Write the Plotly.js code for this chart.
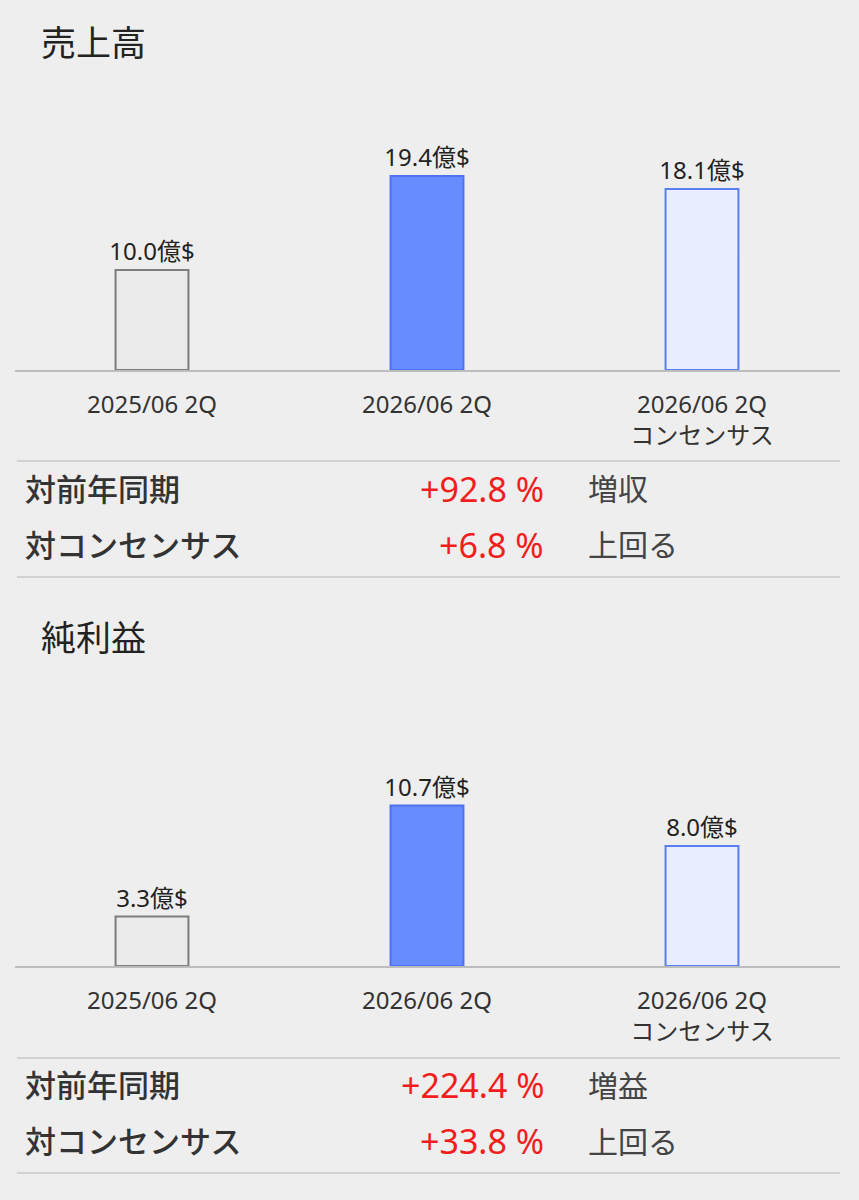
<!DOCTYPE html>
<html>
<head>
<meta charset="utf-8">
<script src="https://cdn.plot.ly/plotly-3.0.1.min.js"></script>
<style>
  html, body { margin: 0; padding: 0; background: #eeeeee; }
  #chart { width: 859px; height: 1200px; }
</style>
</head>
<body>
<div id="chart"></div>
<script>
// ---- data ----
const categories = ['2025/06 2Q', '2026/06 2Q', '2026/06 2Q<br>コンセンサス'];
const salesValues = [10.0, 19.4, 18.1];
const profitValues = [3.3, 10.7, 8.0];
const unitLabel = '億$';
const sectionTitles = ['売上高', '純利益'];
const rowLabels = ['対前年同期', '対コンセンサス'];
const salesChanges = ['+92.8 %', '+6.8 %'];
const salesVerdicts = ['増収', '上回る'];
const profitChanges = ['+224.4 %', '+33.8 %'];
const profitVerdicts = ['増益', '上回る'];

// ---- styles ----
const W = 859, H = 1200;
const FONT = '"Noto Sans", "Noto Sans CJK JP", sans-serif';
const fills = ['#ebebeb', '#678cff', '#e8eeff'];
const outlines = ['#7d7d7d', '#4c72f2', '#5a7ff2'];
const px = x => x / W;
const py = y => 1 - y / H;

function barTrace(vals, xa, ya) {
  return {
    type: 'bar', x: categories, y: vals, xaxis: xa, yaxis: ya,
    width: 0.265,
    marker: { color: fills, line: { color: outlines, width: 2 } },
    texttemplate: '%{y:.1f}' + unitLabel,
    textposition: 'outside',
    constraintext: 'none',
    cliponaxis: false,
    textfont: { family: FONT, size: 24, color: '#222222' },
    hoverinfo: 'skip', showlegend: false
  };
}

const data = [barTrace(salesValues, 'x', 'y'), barTrace(profitValues, 'x2', 'y2')];

const xaxisBase = {
  type: 'category', range: [-0.5, 2.5], domain: [px(14.5), px(839.5)],
  showline: true, linecolor: '#bdbdbd', linewidth: 2, showgrid: false, zeroline: false,
  ticks: '', ticklabelstandoff: 12,
  tickfont: { family: FONT, size: 24, color: '#333333' }, fixedrange: true
};
const yaxisBase = { showgrid: false, zeroline: false, showticklabels: false, showline: false, fixedrange: true };

const annotations = [];
const shapes = [];

function section(titleY, changes, verdicts, rowYs, sepYs, title) {
  annotations.push({ xref: 'paper', yref: 'paper', x: px(39), y: py(titleY), xanchor: 'left', yanchor: 'middle',
    text: title, showarrow: false, font: { family: FONT, size: 35, color: '#222222' } });
  rowLabels.forEach((lab, i) => {
    annotations.push({ xref: 'paper', yref: 'paper', x: px(23), y: py(rowYs[i]), xanchor: 'left', yanchor: 'middle',
      text: lab, showarrow: false, font: { family: FONT, size: 31, color: '#333333', weight: 500 } });
    annotations.push({ xref: 'paper', yref: 'paper', x: px(546), y: py(rowYs[i]), xanchor: 'right', yanchor: 'middle',
      text: changes[i], showarrow: false, font: { family: FONT, size: 34, color: '#f21d1d' } });
    annotations.push({ xref: 'paper', yref: 'paper', x: px(586), y: py(rowYs[i]), xanchor: 'left', yanchor: 'middle',
      text: verdicts[i], showarrow: false, font: { family: FONT, size: 30, color: '#444444' } });
  });
  sepYs.forEach(y => shapes.push({ type: 'line', xref: 'paper', yref: 'paper', x0: px(17), x1: px(840), y0: py(y), y1: py(y),
    line: { color: '#d2d2d2', width: 2 } }));
}

section(42, salesChanges, salesVerdicts, [489, 545], [461, 577], sectionTitles[0]);
section(637, profitChanges, profitVerdicts, [1085, 1141], [1058, 1173], sectionTitles[1]);

const layout = {
  width: W, height: H,
  margin: { l: 0, r: 0, t: 0, b: 0, pad: 0 },
  paper_bgcolor: '#eeeeee', plot_bgcolor: '#eeeeee',
  bargap: 0.7,
  xaxis: Object.assign({}, xaxisBase, { anchor: 'y' }),
  yaxis: Object.assign({}, yaxisBase, { domain: [py(370), py(70)], range: [0, 30], anchor: 'x' }),
  xaxis2: Object.assign({}, xaxisBase, { anchor: 'y2' }),
  yaxis2: Object.assign({}, yaxisBase, { domain: [py(966), py(666)], range: [0, 20], anchor: 'x2' }),
  annotations: annotations,
  shapes: shapes
};

Plotly.newPlot('chart', data, layout, { displayModeBar: false, staticPlot: true });
</script>
</body>
</html>
